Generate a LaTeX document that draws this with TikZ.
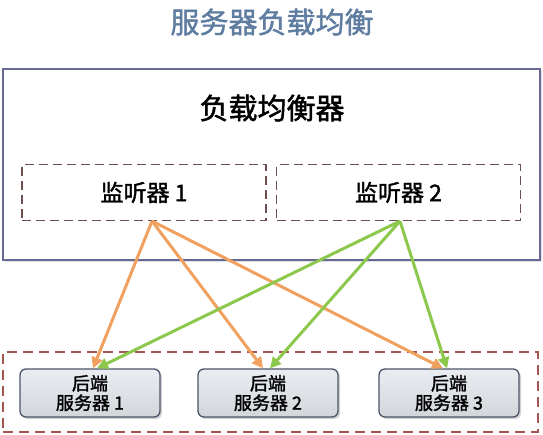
\documentclass[tikz,border=0pt]{standalone}
\usepackage{fontspec}
\newfontfamily\cjk[FakeBold=1.6]{Noto Sans CJK SC}
\usetikzlibrary{arrows.meta,shadows}
\definecolor{titleblue}{RGB}{95,125,160}
\definecolor{outerc}{RGB}{105,105,150}
\definecolor{listc}{RGB}{110,80,80}
\definecolor{botc}{RGB}{165,85,80}
\definecolor{boxfill}{RGB}{225,229,235}
\definecolor{boxdraw}{RGB}{75,85,105}
\definecolor{orangec}{RGB}{240,160,95}
\definecolor{greenc}{RGB}{140,200,75}
\tikzset{
  listbox/.style={draw=listc, dashed, dash pattern=on 9pt off 5pt, line width=1.2pt, minimum width=244pt, minimum height=56pt, inner sep=0pt,
     font=\cjk\fontsize{23}{26}\selectfont},
  backbox/.style={draw=boxdraw, top color=boxfill!70!white, bottom color=boxfill!85!gray, line width=1.3pt, rounded corners=6pt, minimum width=140pt, minimum height=48pt, inner sep=0pt,
     align=center, font=\cjk\fontsize{18}{19.5}\selectfont, drop shadow={shadow xshift=2pt, shadow yshift=-2pt, fill=black!35, opacity=0.5}},
  orarrow/.style={draw=orangec, line width=3pt, -{Triangle[length=11pt,width=11pt]}},
  grarrow/.style={draw=greenc, line width=3pt, -{Triangle[length=11pt,width=11pt]}},
}
\begin{document}
\begin{tikzpicture}[x=1pt,y=-1pt]
\useasboundingbox (0,0) rectangle (543,434);
\node[font=\cjk\fontsize{29}{32}\selectfont, text=titleblue] (title) at (272,22) {服务器负载均衡};
\node[draw=outerc, line width=2.2pt, minimum width=537pt, minimum height=191pt, inner sep=0pt,
      drop shadow={shadow xshift=1.5pt, shadow yshift=-1.5pt, fill=black!30, opacity=0.4}, fill=white] (lb) at (271.5,164.5) {};
\node[font=\cjk\fontsize{29}{32}\selectfont] (lbt) at (272,108) {负载均衡器};
\node[listbox] (l1) at (144,192.5) {监听器 1};
\node[listbox] (l2) at (398.5,192.5) {监听器 2};
\node[draw=botc, dashed, dash pattern=on 10pt off 6pt, line width=1.6pt, minimum width=535pt, minimum height=80pt, inner sep=0pt] (bot) at (270.5,392) {};
\node[backbox] (b1) at (90,393) {后端\\服务器 1};
\node[backbox] (b2) at (268,393) {后端\\服务器 2};
\node[backbox] (b3) at (449,393) {后端\\服务器 3};
\coordinate (s1) at ([xshift=8pt]l1.south);
\coordinate (s2) at ([xshift=1.5pt]l2.south);
\draw[orarrow] (s1) -- ([xshift=3pt]b1.north);
\draw[orarrow] (s1) -- ([xshift=-5pt]b2.north);
\draw[orarrow] (s1) -- ([xshift=-6pt]b3.north);
\draw[grarrow] (s2) -- ([xshift=7pt]b1.north);
\draw[grarrow] (s2) -- ([xshift=2pt]b2.north);
\draw[grarrow] (s2) -- ([xshift=-2pt]b3.north);
\end{tikzpicture}
\end{document}
